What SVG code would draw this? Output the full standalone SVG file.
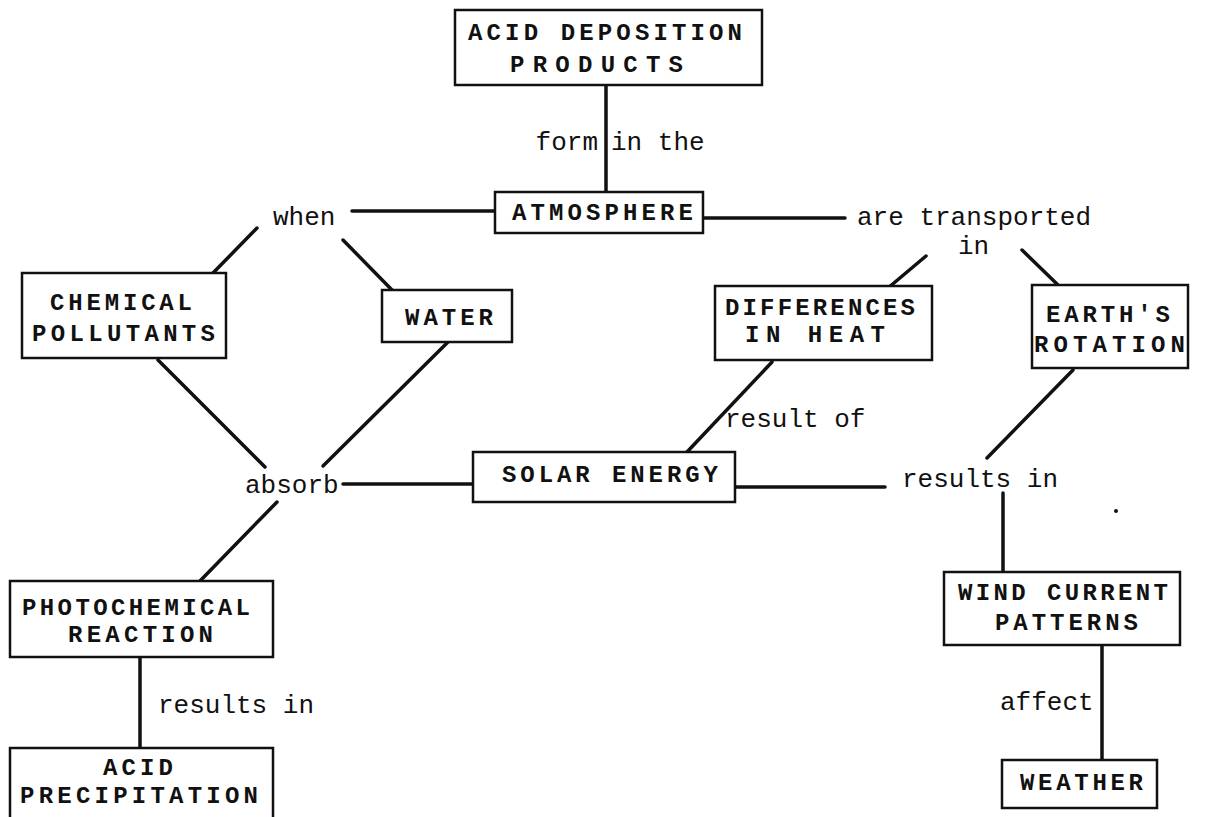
<svg xmlns="http://www.w3.org/2000/svg" width="1209" height="817" viewBox="0 0 1209 817">
<style>
.box{fill:#fff;stroke:#111;stroke-width:2.5}
.n{font-family:"Liberation Mono","DejaVu Sans Mono",monospace;font-weight:bold;font-size:24px;fill:#111}
.l{font-family:"Liberation Mono","DejaVu Sans Mono",monospace;font-size:26px;fill:#111}
.c line{stroke:#111;stroke-width:3.5;stroke-linecap:round}
</style>
<rect width="1209" height="817" fill="#fff"/>
<g class="c" id="connectors">
<line x1="606" y1="85" x2="606" y2="192"/>
<line x1="352" y1="211" x2="495" y2="211"/>
<line x1="703" y1="218" x2="845" y2="218"/>
<line x1="257" y1="228" x2="213" y2="273"/>
<line x1="343" y1="240" x2="392" y2="290"/>
<line x1="926" y1="256" x2="888" y2="288"/>
<line x1="1022" y1="250" x2="1058" y2="285"/>
<line x1="158" y1="360" x2="265" y2="467"/>
<line x1="448" y1="342" x2="323" y2="466"/>
<line x1="343" y1="484" x2="473" y2="484"/>
<line x1="772" y1="362" x2="687" y2="452"/>
<line x1="735" y1="487" x2="885" y2="487"/>
<line x1="1073" y1="370" x2="987" y2="458"/>
<line x1="1003" y1="493" x2="1003" y2="572"/>
<line x1="277" y1="502" x2="200" y2="581"/>
<line x1="140" y1="657" x2="140" y2="748"/>
<line x1="1102" y1="645" x2="1102" y2="760"/>
</g>
<g id="labels">
<text class="l" x="598" y="150" text-anchor="end">form</text>
<text class="l" x="611" y="150">in the</text>
<text class="l" x="273" y="225">when</text>
<text class="l" x="857" y="225">are transported</text>
<text class="l" x="958" y="254">in</text>
<text class="l" x="245" y="493">absorb</text>
<text class="l" x="725" y="427">result of</text>
<text class="l" x="902" y="487">results in</text>
<text class="l" x="158" y="713">results in</text>
<text class="l" x="1000" y="710">affect</text>
</g>
<g id="acid-deposition">
<rect class="box" x="455" y="10" width="307" height="75"/>
<text class="n" x="468" y="40" textLength="274" lengthAdjust="spacing">ACID DEPOSITION</text>
<text class="n" x="510" y="72" textLength="173" lengthAdjust="spacing">PRODUCTS</text>
</g>
<g id="atmosphere">
<rect class="box" x="495" y="192" width="208" height="41"/>
<text class="n" x="512" y="220" textLength="181" lengthAdjust="spacing">ATMOSPHERE</text>
</g>
<g id="chemical-pollutants">
<rect class="box" x="22" y="273" width="204" height="85"/>
<text class="n" x="50" y="310" textLength="142" lengthAdjust="spacing">CHEMICAL</text>
<text class="n" x="32" y="341" textLength="183" lengthAdjust="spacing">POLLUTANTS</text>
</g>
<g id="water">
<rect class="box" x="382" y="290" width="130" height="52"/>
<text class="n" x="405" y="325" textLength="88" lengthAdjust="spacing">WATER</text>
</g>
<g id="differences-in-heat">
<rect class="box" x="715" y="286" width="217" height="74"/>
<text class="n" x="725" y="315" textLength="190" lengthAdjust="spacing">DIFFERENCES</text>
<text class="n" x="745" y="342" textLength="140" lengthAdjust="spacing">IN HEAT</text>
</g>
<g id="earths-rotation">
<rect class="box" x="1032" y="285" width="156" height="83"/>
<text class="n" x="1046" y="322" textLength="124" lengthAdjust="spacing">EARTH'S</text>
<text class="n" x="1034" y="352" textLength="151" lengthAdjust="spacing">ROTATION</text>
</g>
<g id="solar-energy">
<rect class="box" x="473" y="452" width="262" height="50"/>
<text class="n" x="502" y="482" textLength="216" lengthAdjust="spacing">SOLAR ENERGY</text>
</g>
<g id="photochemical-reaction">
<rect class="box" x="10" y="581" width="263" height="76"/>
<text class="n" x="22" y="615" textLength="228" lengthAdjust="spacing">PHOTOCHEMICAL</text>
<text class="n" x="68" y="642" textLength="145" lengthAdjust="spacing">REACTION</text>
</g>
<g id="acid-precipitation">
<rect class="box" x="10" y="748" width="263" height="80"/>
<text class="n" x="103" y="775" textLength="70" lengthAdjust="spacing">ACID</text>
<text class="n" x="20" y="803" textLength="238" lengthAdjust="spacing">PRECIPITATION</text>
</g>
<g id="wind-current-patterns">
<rect class="box" x="944" y="572" width="236" height="73"/>
<text class="n" x="958" y="600" textLength="210" lengthAdjust="spacing">WIND CURRENT</text>
<text class="n" x="995" y="630" textLength="143" lengthAdjust="spacing">PATTERNS</text>
</g>
<g id="weather">
<rect class="box" x="1002" y="760" width="155" height="48"/>
<text class="n" x="1020" y="790" textLength="123" lengthAdjust="spacing">WEATHER</text>
</g>
<circle cx="1116" cy="511" r="2" fill="#111"/>
</svg>
